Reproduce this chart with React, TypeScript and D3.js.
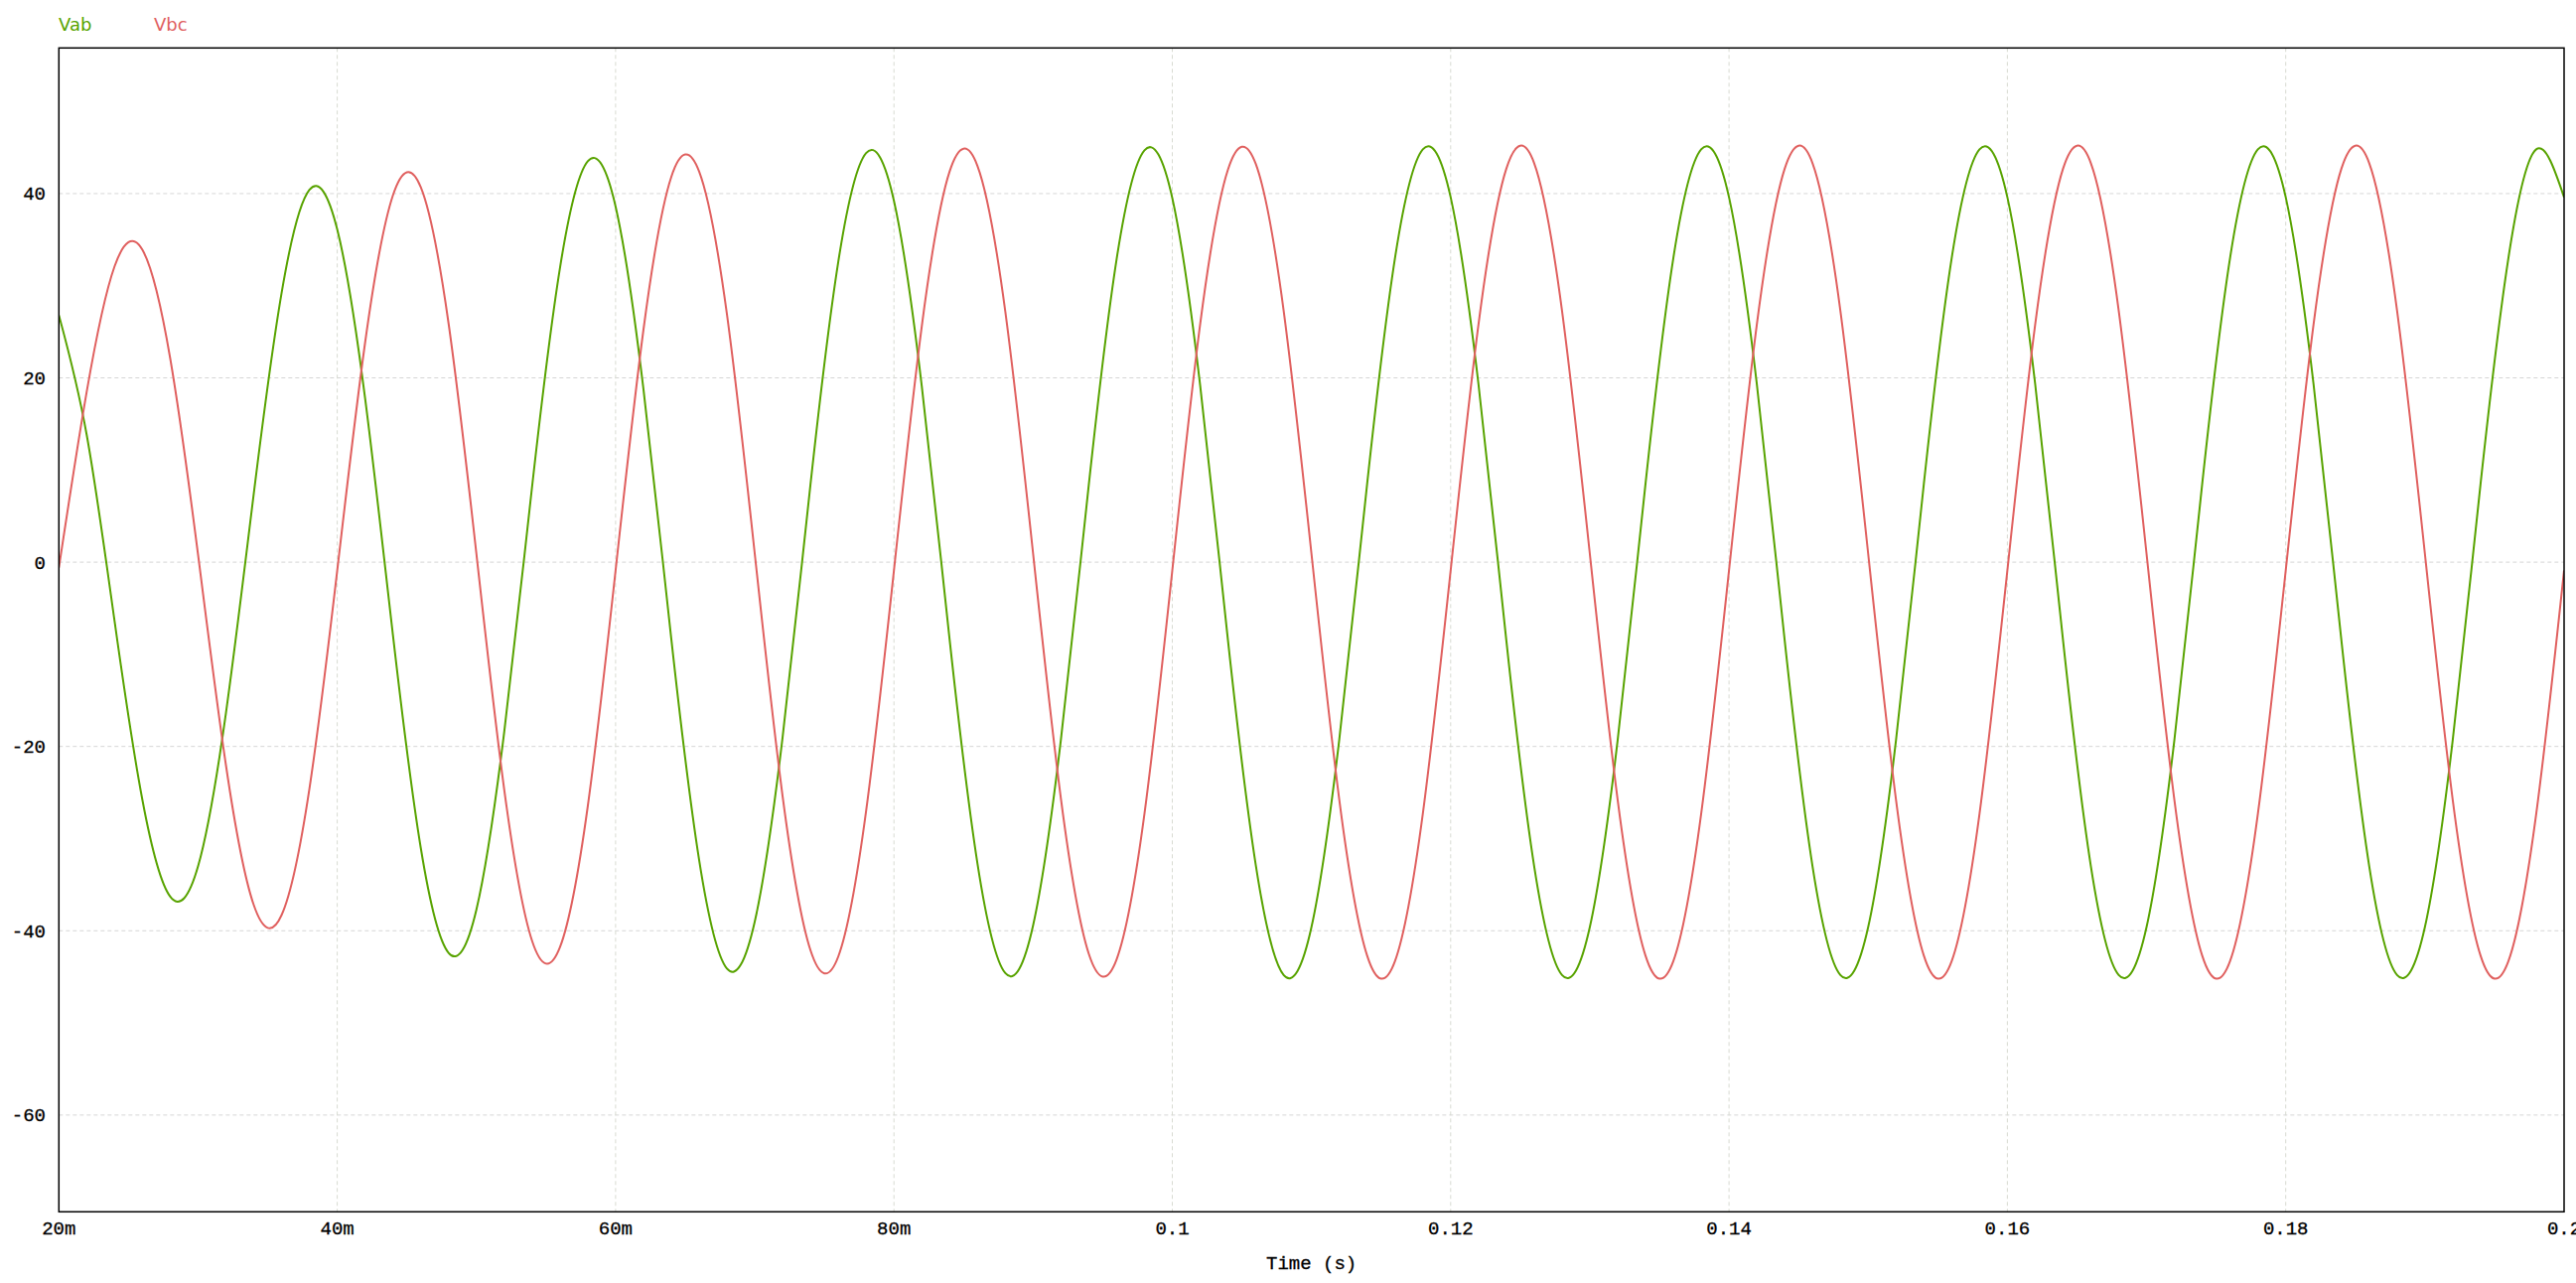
import React from "react";
import * as d3 from "d3";

// Time samples (ms)
const timeMs = [
  20, 22, 24, 26, 28, 30, 32, 34, 36, 38,
  40, 42, 44, 46, 48, 50, 52, 54, 56, 58,
  60, 62, 64, 66, 68, 70, 72, 74, 76, 78,
  80, 82, 84, 86, 88, 90, 92, 94, 96, 98,
  100, 102, 104, 106, 108, 110, 112, 114, 116, 118,
  120, 122, 124, 126, 128, 130, 132, 134, 136, 138,
  140, 142, 144, 146, 148, 150, 152, 154, 156, 158,
  160, 162, 164, 166, 168, 170, 172, 174, 176, 178,
  180, 182, 184, 186, 188, 190, 192, 194, 196, 198,
  200,
];

const vab = [
  26.8, 13.8, -6.4, -25.8, -36.3, -33.0, -16.4, 7.4, 29.2, 40.4,
  36.1, 17.8, -7.9, -31.0, -42.4, -37.7, -18.4, 8.2, 31.9, 43.5,
  38.6, 18.8, -8.3, -32.3, -44.1, -39.0, -19.0, 8.4, 32.6, 44.4,
  39.2, 19.1, -8.4, -32.7, -44.6, -39.4, -19.2, 8.4, 32.9, 44.7,
  39.5, 19.2, -8.5, -32.9, -44.8, -39.6, -19.2, 8.5, 33.0, 44.8,
  39.6, 19.3, -8.5, -33.0, -44.8, -39.6, -19.3, 8.5, 33.0, 44.8,
  39.6, 19.3, -8.5, -33.0, -44.8, -39.6, -19.3, 8.5, 33.0, 44.8,
  39.6, 19.3, -8.5, -33.0, -44.8, -39.6, -19.3, 8.5, 33.0, 44.8,
  39.6, 19.3, -8.5, -33.0, -44.8, -39.6, -19.3, 8.5, 33.0, 44.8,
  39.6,
];

const vbc = [
  -0.6, 18.5, 32.1, 33.9, 22.1, 0.8, -22.0, -37.2, -38.3, -24.6,
  -0.9, 23.8, 39.8, 40.7, 25.9, 0.9, -24.7, -41.1, -41.8, -26.5,
  -0.9, 25.2, 41.8, 42.4, 26.9, 0.9, -25.4, -42.1, -42.8, -27.0,
  -0.9, 25.6, 42.4, 43.0, 27.2, 0.9, -25.7, -42.5, -43.1, -27.3,
  -0.9, 25.8, 42.6, 43.2, 27.3, 0.9, -25.8, -42.7, -43.3, -27.3,
  -0.9, 25.8, 42.7, 43.3, 27.3, 0.9, -25.8, -42.7, -43.3, -27.3,
  -0.9, 25.8, 42.7, 43.3, 27.3, 0.9, -25.8, -42.7, -43.3, -27.3,
  -0.9, 25.8, 42.7, 43.3, 27.3, 0.9, -25.8, -42.7, -43.3, -27.3,
  -0.9, 25.8, 42.7, 43.3, 27.3, 0.9, -25.8, -42.7, -43.3, -27.3,
  -0.9,
];

const xTicks = [20, 40, 60, 80, 100, 120, 140, 160, 180, 200];
const xTickLabels = ["20m", "40m", "60m", "80m", "0.1", "0.12", "0.14", "0.16", "0.18", "0.2"];
const yTicks = [-60, -40, -20, 0, 20, 40];

const seriesNames = ["Vab", "Vbc"];
const seriesColors = ["#58a300", "#e0605f"];

const W = 2594;
const H = 1292;
const L = 59.3, R = 2582, T = 48.3, B = 1220.3;

export default function App() {
  const x = d3.scaleLinear().domain([20, 200]).range([L, R]);
  const y = d3.scaleLinear().domain([-70.5, 55.8]).range([B, T]);
  const mono = "'Liberation Mono', 'DejaVu Sans Mono', monospace";

  const mk = (vals: number[]) =>
    d3
      .line<number>()
      .x((_, i) => x(timeMs[i]))
      .y((v) => y(v))
      .curve(d3.curveNatural)(vals) || "";

  const series = [vab, vbc];

  return (
    <svg
      width={W}
      height={H}
      style={{ position: "absolute", left: 0, top: 0, background: "#fff" }}
    >
      <defs>
        <clipPath id="plot">
          <rect x={L} y={T} width={R - L} height={B - T} />
        </clipPath>
      </defs>
      <rect x={0} y={0} width={W} height={H} fill="#fff" />
      {yTicks.map((t) => (
        <line key={"gy" + t} x1={L} x2={R} y1={y(t)} y2={y(t)} stroke="#d6d6d6" strokeWidth={1} strokeDasharray="4,3" />
      ))}
      {xTicks.slice(1, -1).map((t) => (
        <line key={"gx" + t} x1={x(t)} x2={x(t)} y1={T} y2={B} stroke="#d8dbd2" strokeWidth={1} strokeDasharray="4,3" />
      ))}
      <g clipPath="url(#plot)">
        {series.map((s, i) => (
          <path key={i} d={mk(s)} fill="none" stroke={seriesColors[i]} strokeWidth={2} />
        ))}
      </g>
      <rect x={L} y={T} width={R - L} height={B - T} fill="none" stroke="#000" strokeWidth={1.5} />
      {xTicks.map((t, i) => (
        <text key={"xt" + t} x={x(t)} y={1243} textAnchor="middle" fontFamily={mono} fontSize={19} fill="#000" stroke="#000" strokeWidth={0.3}>
          {xTickLabels[i]}
        </text>
      ))}
      {yTicks.map((t) => (
        <text key={"yt" + t} x={46} y={y(t) + 6.5} textAnchor="end" fontFamily={mono} fontSize={19} fill="#000" stroke="#000" strokeWidth={0.3}>
          {t}
        </text>
      ))}
      <text x={(L + R) / 2} y={1278} textAnchor="middle" fontFamily={mono} fontSize={19} fill="#000" stroke="#000" strokeWidth={0.3}>
        Time (s)
      </text>
      {seriesNames.map((n, i) => (
        <text key={n} x={59 + i * 96} y={30.7} fontFamily="'DejaVu Sans', Verdana, sans-serif" fontSize={18} fill={seriesColors[i]}>
          {n}
        </text>
      ))}
    </svg>
  );
}
